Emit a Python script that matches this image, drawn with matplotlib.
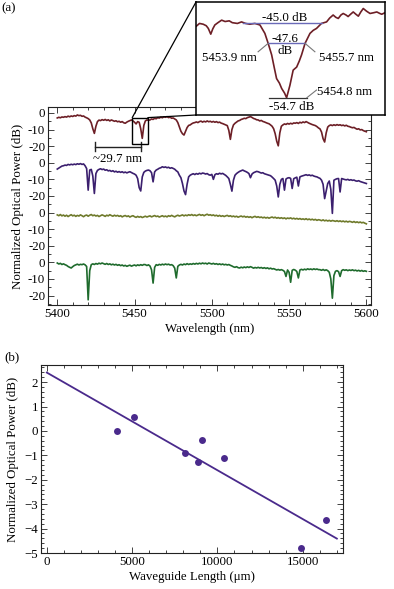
import numpy as np
import matplotlib
matplotlib.use("Agg")
import matplotlib.pyplot as plt
from matplotlib.ticker import FixedLocator, MultipleLocator
from matplotlib.patches import Rectangle, ConnectionPatch

plt.rcParams['font.family'] = ['Liberation Serif', 'DejaVu Serif']
plt.rcParams['font.size'] = 9.3

# ---------------- data: panel (a) spectra (1 nm grid, 5400..5600 nm) ----------------
wavelength = list(range(5400, 5601))

trace_red = [
    -3.0, -2.6, -2.9, -2.4, -2.6, -2.2, -2.5, -1.9, -2.3, -1.8,
    -2.1, -1.6, -1.9, -1.2, -1.6, -1.4, -2.0, -1.8, -2.5, -2.9,
    -3.4, -4.2, -6.0, -9.5, -12.3, -8.0, -5.2, -4.3, -4.6, -4.0,
    -4.4, -3.9, -4.5, -4.1, -4.8, -4.2, -4.6, -5.0, -4.7, -5.3,
    -5.0, -5.6, -5.2, -5.9, -6.2, -5.5, -5.0, -4.6, -4.2, -4.8,
    -5.6, -6.6, -5.2, -5.6, -9.5, -15.3, -7.5, -4.8, -4.2, -4.4,
    -4.2, -3.6, -3.9, -3.2, -3.5, -2.8, -3.1, -2.5, -2.9, -2.3,
    -2.6, -2.2, -2.8, -2.5, -3.2, -3.0, -3.6, -4.2, -5.8, -8.5,
    -11.0, -12.5, -13.3, -11.0, -8.8, -7.5, -7.2, -6.5, -6.0, -5.8,
    -5.4, -5.8, -5.2, -4.9, -5.5, -5.0, -5.4, -4.8, -5.3, -5.0,
    -5.5, -5.1, -5.6, -5.2, -5.8, -5.5, -6.1, -6.4, -6.8, -7.2,
    -7.6, -10.5, -15.9, -10.0, -7.2, -6.2, -5.5, -4.8, -4.5, -3.9,
    -3.6, -3.2, -3.4, -2.8, -2.5, -2.2, -2.7, -3.3, -3.6, -4.1,
    -4.2, -4.8, -4.5, -5.1, -5.4, -5.8, -6.2, -6.5, -7.2, -8.0,
    -9.5, -12.5, -17.0, -19.8, -12.0, -8.0, -7.2, -6.6, -6.9, -6.3,
    -6.7, -6.2, -6.6, -6.0, -6.2, -5.8, -6.3, -5.6, -6.0, -5.4,
    -5.8, -5.2, -5.7, -6.2, -6.6, -7.0, -7.3, -7.6, -8.2, -9.0,
    -9.6, -11.5, -15.5, -17.5, -12.0, -8.5, -7.6, -7.2, -7.6, -7.1,
    -7.5, -7.0, -7.4, -7.1, -7.6, -7.3, -7.8, -7.4, -8.0, -8.2,
    -8.6, -8.9, -8.7, -9.3, -9.8, -9.5, -10.2, -10.0, -10.6, -11.0,
    -11.3,
]

trace_purple = [
    -3.8, -3.2, -2.6, -2.0, -1.8, -1.4, -1.6, -1.0, -1.3, -0.9,
    -1.2, -0.8, -1.1, -0.6, -0.9, -0.5, -1.0, -0.7, -1.8, -3.5,
    -16.5, -4.4, -4.0, -8.0, -18.5, -6.5, -4.6, -4.0, -3.6, -4.1,
    -3.8, -4.5, -4.2, -4.9, -4.6, -5.2, -4.8, -5.5, -5.1, -5.7,
    -5.3, -5.8, -5.4, -6.0, -5.6, -6.1, -5.7, -5.4, -5.9, -6.4,
    -6.8, -7.5, -9.5, -15.0, -17.0, -8.5, -5.8, -5.0, -4.6, -4.4,
    -4.8, -6.0, -11.5, -5.5, -4.4, -3.9, -3.3, -3.0, -2.4, -2.8,
    -2.5, -3.0, -2.7, -3.3, -3.0, -3.4, -3.9, -4.8, -5.5, -7.5,
    -9.0, -12.5, -17.0, -19.2, -13.0, -8.5, -7.5, -7.0, -6.6, -7.1,
    -6.5, -6.9, -6.3, -6.7, -6.2, -6.4, -6.8, -6.5, -7.2, -7.5,
    -7.0, -10.0, -7.2, -6.6, -6.9, -6.3, -6.7, -6.4, -7.0, -7.6,
    -8.5, -9.5, -13.0, -17.1, -10.5, -7.5, -6.5, -5.8, -5.2, -4.8,
    -4.4, -4.9, -5.3, -5.8, -6.5, -9.0, -6.8, -6.0, -5.6, -5.2,
    -5.4, -5.8, -6.2, -6.0, -6.6, -6.9, -7.2, -7.5, -7.8, -8.6,
    -9.5, -10.5, -14.0, -20.6, -13.0, -10.0, -9.5, -16.5, -9.8, -9.2,
    -9.0, -9.4, -15.5, -9.6, -9.1, -8.7, -14.0, -8.5, -8.1, -7.8,
    -7.5, -7.2, -7.6, -7.3, -7.8, -7.5, -8.0, -8.3, -8.5, -9.0,
    -9.4, -10.5, -13.0, -21.6, -17.0, -12.5, -11.0, -16.0, -30.5, -10.5,
    -10.0, -9.6, -9.5, -17.6, -9.5, -9.8, -10.1, -10.3, -10.0, -10.5,
    -10.2, -10.6, -10.4, -10.9, -11.1, -10.8, -11.3, -11.6, -11.9, -12.2,
    -12.5,
]

trace_olive = [
    -1.4, -1.9, -1.2, -2.0, -1.5, -2.2, -1.6, -2.4, -1.8, -1.3,
    -2.0, -1.6, -2.3, -1.7, -2.1, -1.4, -1.9, -2.5, -1.8, -1.5,
    -2.2, -1.6, -1.2, -1.9, -1.5, -2.1, -1.7, -2.4, -1.9, -1.4,
    -1.8, -2.3, -1.6, -2.0, -1.3, -1.8, -2.2, -1.6, -2.1, -1.7,
    -2.3, -1.9, -2.6, -2.1, -1.8, -2.4, -2.0, -2.7, -2.2, -1.9,
    -2.5, -2.9, -2.3, -2.8, -2.4, -3.0, -2.6, -2.2, -2.7, -2.3,
    -2.0, -2.6, -2.2, -1.8, -2.4, -2.1, -2.7, -2.3, -1.9, -2.5,
    -2.1, -2.6, -1.9, -2.3, -1.7, -2.2, -2.6, -2.0, -1.6, -2.1,
    -1.8, -1.4, -2.0, -1.5, -1.9, -1.3, -1.7, -1.2, -1.8, -1.4,
    -1.9, -1.5, -1.1, -1.7, -1.3, -1.9, -1.4, -1.0, -1.6, -1.3,
    -1.8, -1.4, -2.0, -1.6, -2.2, -1.7, -2.3, -1.9, -2.4, -2.0,
    -1.7, -2.3, -1.9, -2.5, -2.1, -2.6, -2.2, -2.8, -2.4, -2.1,
    -2.6, -2.2, -2.8, -2.4, -2.9, -2.5, -3.1, -2.6, -2.3, -2.9,
    -2.5, -3.0, -2.7, -3.2, -2.8, -3.3, -2.9, -3.4, -3.0, -2.7,
    -3.2, -2.8, -3.4, -3.0, -3.5, -3.1, -3.6, -3.2, -3.8, -3.3,
    -3.6, -3.2, -3.8, -3.4, -3.9, -3.5, -4.0, -3.6, -4.1, -3.8,
    -4.2, -3.7, -4.3, -3.9, -4.4, -4.0, -4.5, -4.1, -4.7, -4.3,
    -4.5, -4.9, -4.4, -5.0, -4.6, -5.1, -4.7, -5.2, -4.8, -5.0,
    -5.3, -4.9, -5.4, -5.0, -5.5, -5.1, -5.6, -5.2, -5.7, -5.3,
    -5.5, -5.9, -5.4, -6.0, -5.6, -6.1, -5.7, -6.2, -5.9, -6.4,
    -6.8,
]

trace_green = [
    -0.4, -1.0, -0.6, -1.3, -0.9, -1.4, -1.8, -2.5, -3.0, -3.4,
    -2.6, -1.9, -1.5, -1.1, -1.6, -1.2, -1.4, -1.0, -1.5, -2.5,
    -22.6, -5.0, -1.4, -0.9, -1.3, -0.7, -1.1, -0.5, -0.9, -0.4,
    -0.8, -1.2, -0.7, -1.3, -0.9, -1.5, -1.1, -1.6, -1.2, -1.8,
    -1.4, -2.0, -1.6, -2.2, -1.8, -2.4, -2.0, -1.7, -2.3, -1.9,
    -1.6, -2.1, -1.5, -1.9, -1.4, -1.8, -1.3, -1.4, -1.9, -1.5,
    -2.2, -4.5, -12.5, -3.0, -1.4, -1.8, -1.2, -1.6, -1.1, -1.5,
    -1.0, -1.4, -1.1, -1.6, -1.4, -2.0, -3.5, -9.4, -2.4, -1.6,
    -1.2, -1.6, -1.0, -1.4, -0.8, -1.3, -0.9, -1.2, -0.7, -1.1,
    -0.6, -1.0, -0.5, -0.9, -0.4, -0.8, -0.5, -1.0, -0.4, -0.7,
    -1.0, -0.6, -1.1, -0.8, -1.3, -0.9, -1.4, -1.0, -1.5, -1.2,
    -1.6, -1.3, -1.8, -2.2, -2.7, -3.0, -2.6, -3.2, -3.4, -2.9,
    -3.3, -2.8, -3.2, -2.7, -3.1, -2.6, -3.0, -3.5, -3.1, -3.4,
    -3.0, -3.4, -3.1, -3.6, -3.2, -3.7, -3.3, -3.9, -3.5, -4.0,
    -3.8, -4.2, -4.6, -4.3, -4.7, -4.4, -4.8, -5.5, -8.5, -4.6,
    -6.0, -12.0, -4.8, -4.3, -4.7, -5.5, -9.4, -4.6, -4.2, -4.6,
    -4.1, -4.5, -3.9, -4.3, -4.0, -4.4, -3.9, -4.3, -4.0, -4.4,
    -4.4, -4.8, -4.3, -4.9, -4.5, -5.0, -6.0, -10.0, -21.6, -8.0,
    -5.4, -5.0, -5.6, -8.5, -5.0, -4.4, -4.8, -4.5, -5.0, -4.6,
    -4.9, -4.5, -5.0, -4.7, -5.2, -4.8, -5.3, -4.9, -5.4, -5.1,
    -5.4,
]

trace_colors = ['#6d1f26', '#3b1f6e', '#6f7a2b', '#1f6b2d']
trace_offsets = [0, -30, -60, -90]          # vertical stacking of the traces (dB)
ytick_labels = ['0', '-10', '-20']

# ---------------- inset: zoom on the 5454.8 nm resonance ----------------
inset_wl = [5450.40, 5450.55, 5450.73, 5450.88, 5450.98, 5451.10, 5451.20, 5451.30,
            5451.45, 5451.63, 5451.80, 5452.00, 5452.15, 5452.40, 5452.60, 5452.80,
            5453.00, 5453.25, 5453.50, 5453.74, 5453.90, 5454.07, 5454.20, 5454.31,
            5454.45, 5454.56, 5454.70, 5454.80, 5454.96, 5455.12, 5455.29, 5455.42,
            5455.53, 5455.70, 5455.94, 5456.10, 5456.26, 5456.50, 5456.75, 5456.90,
            5457.07, 5457.20, 5457.32, 5457.45, 5457.56, 5457.70, 5457.80, 5457.92,
            5458.05, 5458.18, 5458.30, 5458.42, 5458.54, 5458.70, 5458.87, 5459.05,
            5459.20, 5459.35, 5459.44, 5459.60]
inset_db = [-45.35, -45.0, -45.1, -45.3, -45.65, -46.4, -45.7, -45.2,
            -44.9, -44.57, -44.75, -44.66, -44.9, -45.0, -44.8, -45.0,
            -45.1, -45.0, -45.2, -46.3, -47.6, -49.1, -50.8, -52.2,
            -52.8, -53.5, -54.1, -54.7, -53.1, -51.1, -50.7, -49.9,
            -49.1, -47.6, -46.3, -45.9, -45.65, -45.0, -44.8, -44.3,
            -43.9, -44.2, -44.35, -43.9, -43.7, -43.9, -44.1, -43.8,
            -43.5, -43.8, -44.05, -43.5, -43.05, -43.4, -43.7, -43.6,
            -43.5, -43.7, -43.8, -43.6]

# ---------------- data: panel (b) ----------------
length_um = [4100, 5120, 8120, 8850, 9120, 10380, 14890, 16390]
power_db = [0.00, 0.56, -0.91, -1.26, -0.37, -1.12, -4.81, -3.64]
fit_length = [0, 17000]
fit_power = [2.39, -4.41]
purple = '#4a2a8c'

# ---------------- figure ----------------
W, H = 394, 589
fig = plt.figure(figsize=(W / 100, H / 100), dpi=100)

def px_axes(left, top, right, bottom):
    return fig.add_axes([left / W, 1 - bottom / H, (right - left) / W, (bottom - top) / H])

def style_frame(ax):
    for s in ax.spines.values():
        s.set_linewidth(0.8)
        s.set_color('#222222')
    ax.tick_params(which='both', direction='in', top=True, right=True, width=0.6, color='#222222')
    ax.tick_params(which='major', length=4, pad=2)
    ax.tick_params(which='minor', length=2)

# ---- panel (a)
ax = px_axes(48, 107, 371, 305)
for vals, col, off in zip([trace_red, trace_purple, trace_olive, trace_green], trace_colors, trace_offsets):
    ax.plot(wavelength, np.array(vals) + off, color=col, lw=1.2)
ax.set_xlim(5394, 5603)
ax.set_ylim(-115.7, 3.6)
yt = [off - 10 * k for off in trace_offsets for k in range(3)]
ax.yaxis.set_major_locator(FixedLocator(yt))
ax.set_yticklabels(ytick_labels * len(trace_offsets))
ax.yaxis.set_minor_locator(MultipleLocator(5))
ax.xaxis.set_major_locator(MultipleLocator(50))
ax.xaxis.set_minor_locator(MultipleLocator(10))
style_frame(ax)
ax.set_xlabel('Wavelength (nm)', labelpad=2)
ax.set_ylabel('Normalized Optical Power (dB)', labelpad=3)

# spacing bracket (~29.7 nm)
bx0, bx1, by = 5424.4, 5454.1, -20.4
ax.plot([bx0, bx1], [by, by], color='#222222', lw=1.0)
ax.plot([bx0, bx0], [by - 2.8, by + 2.8], color='#222222', lw=1.0)
ax.plot([bx1, bx1], [by - 2.8, by + 2.8], color='#222222', lw=1.0)
ax.text((bx0 + bx1) / 2, -27.6, '~29.7 nm', ha='center', va='center')

# zoom box
zx0, zx1, zy0, zy1 = 5448.5, 5458.6, -18.4, -2.8
ax.add_patch(Rectangle((zx0, zy0), zx1 - zx0, zy1 - zy0, fill=False, ec='black', lw=1.0, zorder=5))

# ---- inset
axi = px_axes(196, 2, 385, 115)
axi.set_zorder(10)
axi.plot(inset_wl, inset_db, color=trace_colors[0], lw=1.2)
axi.set_xlim(5450.38, 5459.6)
axi.set_ylim(-56.96, -42.2)
axi.set_xticks([])
axi.set_yticks([])
for s in axi.spines.values():
    s.set_linewidth(1.1)
    s.set_color('black')
fs = 9.3
axi.plot([5452.67, 5456.52], [-45.0, -45.0], color='#6a6ab8', lw=1.0)
axi.text(5454.72, -44.25, '-45.0 dB', ha='center', va='center', fontsize=fs)
axi.plot([5453.9, 5455.7], [-47.6, -47.6], color='#6a6ab8', lw=1.0)
axi.text(5454.72, -47.05, '-47.6', ha='center', va='center', fontsize=fs)
axi.text(5454.72, -48.55, 'dB', ha='center', va='center', fontsize=fs)
axi.plot([5453.41, 5453.9], [-48.7, -47.6], color='#777777', lw=0.8)
axi.text(5452.0, -49.55, '5453.9 nm', ha='center', va='center', fontsize=fs)
axi.plot([5455.7, 5456.18], [-47.6, -48.7], color='#777777', lw=0.8)
axi.text(5457.73, -49.55, '5455.7 nm', ha='center', va='center', fontsize=fs)
axi.plot([5453.94, 5455.79], [-54.7, -54.7], color='#333333', lw=0.9)
axi.plot([5455.79, 5456.26], [-54.7, -53.7], color='#777777', lw=0.8)
axi.text(5456.3, -53.9, '5454.8 nm', ha='left', va='center', fontsize=fs)
axi.text(5455.04, -55.95, '-54.7 dB', ha='center', va='center', fontsize=fs)

# connector lines
for xyA, xyB in [((zx0, zy1), (0, 1)), ((zx1, zy1), (0, 0))]:
    con = ConnectionPatch(xyA=xyA, coordsA=ax.transData, xyB=xyB, coordsB=axi.transAxes,
                          color='black', lw=0.9)
    fig.add_artist(con)

# ---- panel (b)
axb = px_axes(41, 365, 343, 553)
axb.plot(fit_length, fit_power, color=purple, lw=1.3)
axb.plot(length_um, power_db, 'o', color=purple, ms=5, mec='none')
axb.set_xlim(-340, 17360)
axb.set_ylim(-5, 2.7)
axb.xaxis.set_major_locator(MultipleLocator(5000))
axb.xaxis.set_minor_locator(MultipleLocator(1000))
axb.yaxis.set_major_locator(MultipleLocator(1))
axb.yaxis.set_minor_locator(MultipleLocator(0.2))
style_frame(axb)
axb.set_xlabel('Waveguide Length (\u03bcm)', labelpad=2)
axb.set_ylabel('Normalized Optical Power (dB)', labelpad=4)

fig.text(9 / W, 1 - 8 / H, '(a)', ha='center', va='center', fontsize=9.3)
fig.text(12 / W, 1 - 357 / H, '(b)', ha='center', va='center', fontsize=9.3)

fig.savefig('out.png', dpi=100)
